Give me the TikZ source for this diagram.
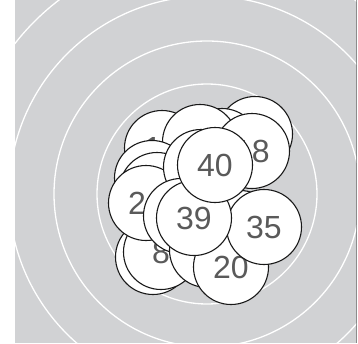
\documentclass[tikz,border=0pt]{standalone}
\usepackage{fontspec}
\setmainfont{Liberation Sans}
\definecolor{bg}{HTML}{D1D2D4}
\definecolor{lab}{HTML}{5A5A5A}
\begin{document}
\begin{tikzpicture}[x=1pt,y=-1pt,
  bub/.style={circle,draw=black!90,line width=1.1pt,fill=white,minimum size=75pt,inner sep=0pt,font=\fontsize{32}{32}\selectfont,text=lab},
  ring/.style={draw=white,line width=1.3pt}]
\useasboundingbox (0,0) rectangle (358,343);
\fill[bg] (15,0) rectangle (356,343);
\draw[black!45,line width=0.8pt] (356,0) -- (356,343);
\begin{scope}
\clip (15,0) rectangle (356,343);
\foreach \r in {110,153,198,244} \draw[ring] (207,194) circle[radius=\r pt];
\end{scope}
\node[bub] (a) at (255,134) {};
\node[bub] (c) at (162,148) {14};
\node[bub] (k) at (222,146) {};
\node[bub] (b) at (200,142) {};
\node[bub] (d) at (152,178) {};
\node[bub] (d2) at (157,190) {};
\node[bub] (h1) at (153,257) {};
\node[bub] (h2) at (161,252) {8};
\node[bub] (c24) at (146,203) {24};
\node[bub] (g) at (201,167) {};
\node[bub] (f) at (181,216) {};
\node[bub] (i) at (207,250) {};
\node[bub] (m) at (240,228) {};
\node[bub] (c18) at (252,151) {18};
\node[bub] (c20) at (231,267) {20};
\node[bub] (c35) at (264,227) {35};
\node[bub] (c39) at (194,218) {39};
\node[bub] (c40) at (215,165) {40};
\end{tikzpicture}
\end{document}
